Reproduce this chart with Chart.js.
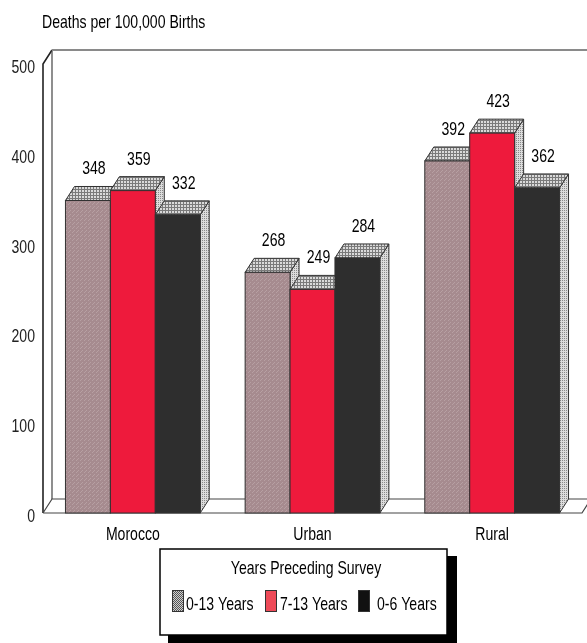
<!DOCTYPE html>
<html>
<head>
<meta charset="utf-8">
<script src="https://cdn.jsdelivr.net/npm/chart.js@4"></script>
<style>
  html, body { margin: 0; padding: 0; background: #ffffff; }
  #wrap { width: 587px; height: 643px; position: relative; }
</style>
</head>
<body>
<div id="wrap"><canvas id="c" width="587" height="643"></canvas></div>
<script>
// ---- data ----
const categories = ['Morocco', 'Urban', 'Rural'];
const seriesLabels = ['0-13 Years', '7-13 Years', '0-6 Years'];
const years0to13 = [348, 268, 392];
const years7to13 = [359, 249, 423];
const years0to6 = [332, 284, 362];
const yTicks = [0, 100, 200, 300, 400, 500];
const yAxisTitle = 'Deaths per 100,000 Births';
const legendTitle = 'Years Preceding Survey';

// ---- styling ----
const FONT = '19px "Liberation Sans", Arial, sans-serif';
const SX = 0.74;            // horizontal condensing of text
const DX = 9, DY = -14;     // 3D depth offset

function condensedText(ctx, text, x, y, align) {
  ctx.save();
  ctx.font = FONT;
  ctx.textAlign = align;
  ctx.textBaseline = 'alphabetic';
  ctx.translate(x, y);
  ctx.scale(SX, 1);
  ctx.fillText(text, 0, 0);
  ctx.restore();
}

function makePattern(bg, fg, size, dots) {
  const c = document.createElement('canvas');
  c.width = size; c.height = size;
  const g = c.getContext('2d');
  g.fillStyle = bg; g.fillRect(0, 0, size, size);
  g.fillStyle = fg;
  dots.forEach(([x, y]) => g.fillRect(x, y, 1, 1));
  return g.createPattern(c, 'repeat');
}
const grayFront = makePattern('#a68b8f', '#b7a0a3', 4, [[0,0],[2,2],[1,3]]);
const hatch = (() => {
  const c = document.createElement('canvas'); c.width = 3; c.height = 3;
  const g = c.getContext('2d');
  g.fillStyle = '#dadada'; g.fillRect(0, 0, 3, 3);
  g.fillStyle = '#7a7a7a'; g.fillRect(0, 0, 3, 1); g.fillRect(0, 0, 1, 3);
  return g.createPattern(c, 'repeat');
})();
const sideFill = (() => {
  const c = document.createElement('canvas'); c.width = 2; c.height = 2;
  const g = c.getContext('2d');
  g.fillStyle = '#dcdcdc'; g.fillRect(0, 0, 2, 2);
  g.fillStyle = '#8a8a8a'; g.fillRect(0, 0, 1, 1);
  return g.createPattern(c, 'repeat');
})();
const legendGray = makePattern('#cfcfcf', '#555555', 2, [[0,0],[1,1]]);
const frontColors = [grayFront, '#ee1a3c', '#2e2e2e'];
const legendColors = [legendGray, '#ee4a58', '#111111'];

// ---- 3D plugin ----
const threeD = {
  id: 'threeD',
  beforeDatasetsDraw(chart) {
    const ctx = chart.ctx;
    const ca = chart.chartArea;
    const ys = chart.scales.y;
    const topF = ys.getPixelForValue(500);
    const bot = ys.getPixelForValue(0);
    ctx.save();
    ctx.lineWidth = 1.6;
    ctx.strokeStyle = '#222';
    ctx.beginPath();
    ctx.moveTo(ca.left, bot);
    ctx.lineTo(ca.left, topF);
    ctx.lineTo(ca.left + DX, topF + DY);
    ctx.stroke();
    ctx.lineWidth = 1.2;
    ctx.strokeStyle = '#444';
    ctx.beginPath();
    ctx.moveTo(ca.left + DX, topF + DY);
    ctx.lineTo(ca.left + DX, bot + DY);
    ctx.stroke();
    ctx.lineWidth = 2;
    ctx.strokeStyle = '#8a8a8a';
    ctx.beginPath();
    ctx.moveTo(ca.left + DX, topF + DY);
    ctx.lineTo(chart.width, topF + DY);
    ctx.stroke();
    ctx.lineWidth = 1.2;
    ctx.strokeStyle = '#444';
    ctx.beginPath();
    ctx.moveTo(ca.left, bot);
    ctx.lineTo(ca.right, bot);
    ctx.lineTo(ca.right + DX, bot + DY);
    ctx.moveTo(ca.left, bot);
    ctx.lineTo(ca.left + DX, bot + DY);
    ctx.lineTo(chart.width, bot + DY);
    ctx.stroke();
    ctx.restore();
  },
  afterDatasetsDraw(chart) {
    const ctx = chart.ctx;
    ctx.save();
    ctx.lineWidth = 1;
    ctx.strokeStyle = '#333';
    for (let i = 0; i < categories.length; i++) {
      for (let d = 0; d < chart.data.datasets.length; d++) {
        const el = chart.getDatasetMeta(d).data[i];
        const p = el.getProps(['x', 'y', 'base', 'width'], true);
        const l = p.x - p.width / 2, r = p.x + p.width / 2;
        ctx.beginPath();
        ctx.moveTo(r, p.y); ctx.lineTo(r + DX, p.y + DY);
        ctx.lineTo(r + DX, p.base + DY); ctx.lineTo(r, p.base); ctx.closePath();
        ctx.fillStyle = sideFill; ctx.fill(); ctx.stroke();
        ctx.beginPath();
        ctx.moveTo(l, p.y); ctx.lineTo(l + DX, p.y + DY);
        ctx.lineTo(r + DX, p.y + DY); ctx.lineTo(r, p.y); ctx.closePath();
        ctx.fillStyle = hatch; ctx.fill(); ctx.stroke();
        ctx.fillStyle = frontColors[d];
        ctx.fillRect(l, p.y, p.width, p.base - p.y);
        ctx.strokeRect(l, p.y, p.width, p.base - p.y);
      }
    }
    ctx.fillStyle = '#000';
    chart.data.datasets.forEach((ds, d) => {
      chart.getDatasetMeta(d).data.forEach((el, i) => {
        const p = el.getProps(['x', 'y'], true);
        condensedText(ctx, String(ds.data[i]), p.x + 6, p.y - 26, 'center');
      });
    });
    ctx.restore();
  },
  afterDraw(chart) {
    const ctx = chart.ctx;
    const ys = chart.scales.y, xs = chart.scales.x;
    ctx.save();
    ctx.fillStyle = '#222';
    ys.ticks.forEach(t => {
      condensedText(ctx, String(t.value), chart.chartArea.left - 8, ys.getPixelForValue(t.value) + 9, 'right');
    });
    ctx.fillStyle = '#000';
    categories.forEach((c, i) => {
      condensedText(ctx, c, xs.getPixelForValue(i), chart.chartArea.bottom + 27, 'center');
    });
    condensedText(ctx, yAxisTitle, 42, 28, 'left');
    // legend
    const bx = 160, by = 549, bw = 287, bh = 86;
    ctx.fillStyle = '#000';
    ctx.fillRect(bx + 8, by + 7, bw + 2, bh + 3);
    ctx.fillStyle = '#fff';
    ctx.fillRect(bx, by, bw, bh);
    ctx.lineWidth = 1.5;
    ctx.strokeStyle = '#000';
    ctx.strokeRect(bx, by, bw, bh);
    ctx.fillStyle = '#000';
    condensedText(ctx, legendTitle, 306, 574, 'center');
    const sq = [172, 265, 358];
    const tx = [186, 280, 377];
    seriesLabels.forEach((lab, k) => {
      ctx.fillStyle = legendColors[k];
      ctx.fillRect(sq[k], 590, 12, 22);
      ctx.lineWidth = 1;
      ctx.strokeStyle = '#333';
      ctx.strokeRect(sq[k] + 0.5, 590.5, 11, 21);
      ctx.fillStyle = '#000';
      condensedText(ctx, lab, tx[k], 610, 'left');
    });
    ctx.restore();
  }
};

new Chart(document.getElementById('c'), {
  type: 'bar',
  data: {
    labels: categories,
    datasets: [
      { label: seriesLabels[0], data: years0to13, backgroundColor: frontColors[0] },
      { label: seriesLabels[1], data: years7to13, backgroundColor: frontColors[1] },
      { label: seriesLabels[2], data: years0to6, backgroundColor: frontColors[2] }
    ]
  },
  options: {
    responsive: false,
    animation: false,
    devicePixelRatio: 1,
    layout: { padding: { top: 64, right: 5, left: 0, bottom: 0 } },
    datasets: { bar: { categoryPercentage: 0.75, barPercentage: 1.0, borderWidth: 0 } },
    plugins: {
      legend: { display: false },
      tooltip: { enabled: false },
      title: { display: false }
    },
    scales: {
      x: {
        grid: { display: false, drawTicks: false },
        border: { display: false },
        ticks: { display: false },
        afterFit(scale) { scale.height = 130; }
      },
      y: {
        min: 0, max: 500,
        afterBuildTicks(scale) { scale.ticks = yTicks.map(v => ({ value: v })); },
        grid: { display: false, drawTicks: false },
        border: { display: false },
        ticks: { display: false },
        afterFit(scale) { scale.width = 43; }
      }
    }
  },
  plugins: [threeD]
});
</script>
</body>
</html>
